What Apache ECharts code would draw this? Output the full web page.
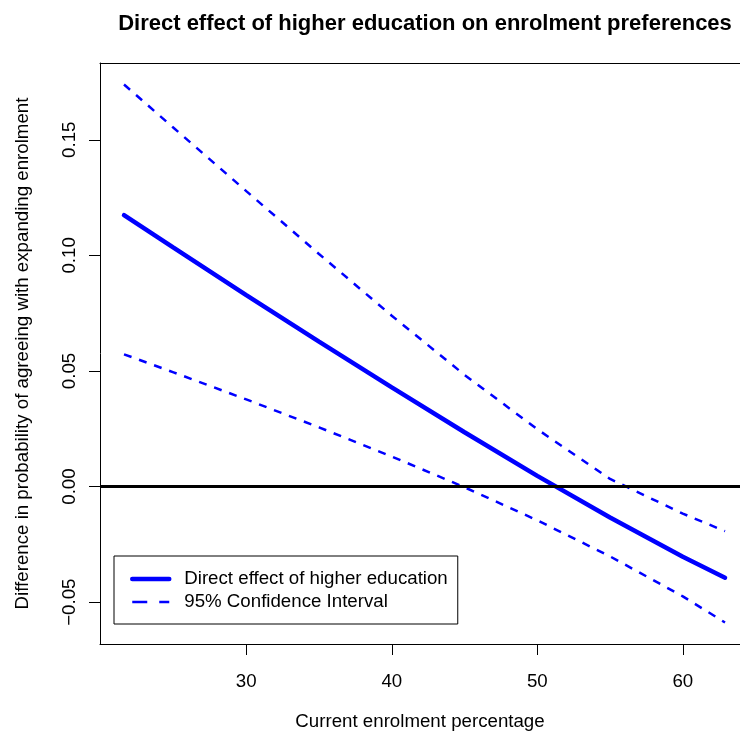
<!DOCTYPE html>
<html>
<head>
<meta charset="utf-8">
<script src="https://cdn.jsdelivr.net/npm/echarts@6/dist/echarts.min.js"></script>
<style>
  html, body { margin: 0; padding: 0; background: #fff; }
  #chart { width: 740px; height: 738px; }
</style>
</head>
<body>
<div id="chart"></div>
<script>
// Current enrolment percentage (x) and estimated effect with 95% bounds
var enrolment = [21.6, 25, 30, 35, 40, 45, 50, 55, 60, 62.9];
var effect    = [0.1174, 0.1033, 0.0828, 0.0627, 0.0429, 0.0235, 0.0046, -0.0134, -0.0304, -0.0394];
var upperCI   = [0.1739, 0.1552, 0.1278, 0.1006, 0.0739, 0.0483, 0.0248, 0.0033, -0.0117, -0.0193];
var lowerCI   = [0.0572, 0.0494, 0.0377, 0.0256, 0.0130, -0.0003, -0.0146, -0.0302, -0.0475, -0.0588];

var xTicks = [30, 40, 50, 60];
var yTicks = [-0.05, 0, 0.05, 0.10, 0.15];

function pairs(ys) {
  return enrolment.map(function (x, i) { return [x, ys[i]]; });
}

var FONT = '"Liberation Sans", Arial, Helvetica, sans-serif';
var BLUE = '#0000ff';
var X_MIN = 19.95, X_MAX = 63.93;

var chart = echarts.init(document.getElementById('chart'), null, { renderer: 'canvas' });

chart.setOption({
  backgroundColor: '#ffffff',
  animation: false,
  title: {
    text: 'Direct effect of higher education on enrolment preferences',
    left: 420,
    textAlign: 'center',
    top: 8,
    textStyle: { fontFamily: FONT, fontWeight: 'bold', fontSize: 22, color: '#000' }
  },
  grid: { left: 100, top: 63, right: 0, bottom: 94, show: false },
  legend: {
    orient: 'vertical',
    left: 114, top: 556,
    padding: [13, 10, 12, 16],
    itemWidth: 37, itemHeight: 14, itemGap: 3,
    borderColor: '#000', borderWidth: 1, borderRadius: 0,
    backgroundColor: '#fff',
    itemStyle: { opacity: 0 },
    data: [
      { name: 'Direct effect of higher education', lineStyle: { width: 4.5, color: BLUE, type: 'solid' } },
      { name: '95% Confidence Interval', lineStyle: { width: 2.5, color: BLUE, type: [15, 12] } }
    ],
    textStyle: { fontFamily: FONT, fontSize: 18.7, lineHeight: 20, color: '#000', padding: [0, 0, 0, 10] }
  },
  xAxis: [
    {
      type: 'value',
      min: X_MIN, max: X_MAX,
      name: 'Current enrolment percentage',
      nameLocation: 'middle', nameGap: 68,
      nameTextStyle: { fontFamily: FONT, fontSize: 18.7, color: '#000' },
      axisLine: { show: true, onZero: false, lineStyle: { color: '#000', width: 1 } },
      axisTick: { show: true, inside: false, length: 11, customValues: xTicks, lineStyle: { color: '#000', width: 1 } },
      axisLabel: { customValues: xTicks, margin: 28, fontFamily: FONT, fontSize: 18.7, color: '#000' },
      splitLine: { show: false }
    },
    {
      // top edge of the plot box
      type: 'value', position: 'top',
      min: X_MIN, max: X_MAX,
      axisLine: { show: true, onZero: false, lineStyle: { color: '#000', width: 1 } },
      axisTick: { show: false }, axisLabel: { show: false }, splitLine: { show: false }
    }
  ],
  yAxis: {
    type: 'value',
    min: -0.0681, max: 0.1832,
    name: 'Difference in probability of agreeing with expanding enrolment',
    nameLocation: 'middle', nameGap: 68,
    nameTextStyle: { fontFamily: FONT, fontSize: 18.7, color: '#000' },
    axisLine: { show: true, onZero: false, lineStyle: { color: '#000', width: 1 } },
    axisTick: { show: true, inside: false, length: 11, customValues: yTicks, lineStyle: { color: '#000', width: 1 } },
    axisLabel: {
      customValues: yTicks, rotate: 90, margin: 21,
      fontFamily: FONT, fontSize: 18.7, color: '#000',
      formatter: function (v) {
        var s = Math.abs(v).toFixed(2);
        return v < 0 ? '\u2212' + s : s;
      }
    },
    splitLine: { show: false }
  },
  series: [
    {
      name: 'Direct effect of higher education',
      type: 'line',
      data: pairs(effect),
      symbol: 'none', smooth: false,
      lineStyle: { color: BLUE, width: 4.5, cap: 'round' },
      itemStyle: { color: BLUE },
      markLine: {
        silent: true, symbol: 'none', label: { show: false },
        lineStyle: { color: '#000', width: 3, type: 'solid' },
        data: [{ yAxis: 0 }]
      },
      z: 3
    },
    {
      name: '95% Confidence Interval',
      type: 'line',
      data: pairs(upperCI),
      symbol: 'none', smooth: false,
      lineStyle: { color: BLUE, width: 2.5, type: [8, 8] },
      itemStyle: { color: BLUE },
      z: 2
    },
    {
      name: '95% Confidence Interval',
      type: 'line',
      data: pairs(lowerCI),
      symbol: 'none', smooth: false,
      lineStyle: { color: BLUE, width: 2.5, type: [8, 8] },
      itemStyle: { color: BLUE },
      z: 2
    }
  ]
});
</script>
</body>
</html>
